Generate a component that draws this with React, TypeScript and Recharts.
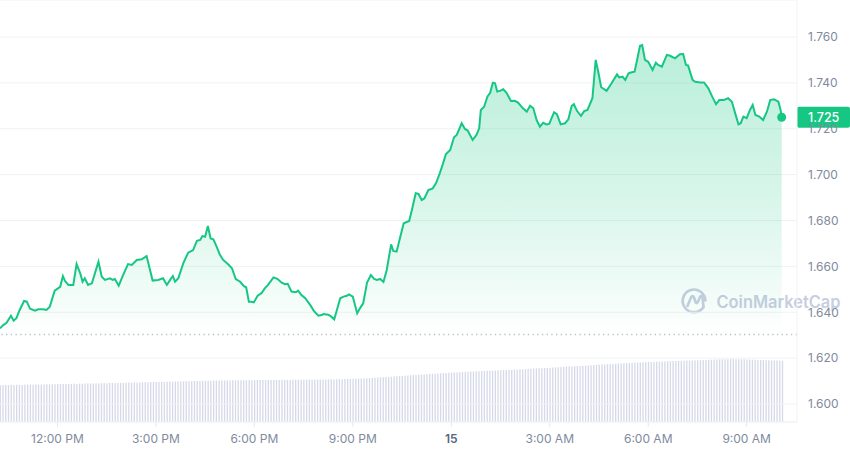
import React from 'react';
import {
  AreaChart,
  Area,
  BarChart,
  Bar,
  XAxis,
  YAxis,
  CartesianGrid,
  ReferenceLine,
  ReferenceDot,
} from 'recharts';

// Minutes since 00:00 on the 14th
const priceTimes = [
  615, 621, 627, 635, 640, 645, 651, 659, 664, 670,
  679, 685, 694, 700, 706, 715, 725, 730, 734, 740,
  749, 755, 762, 766, 770, 776, 783, 795, 801, 807,
  816, 821, 825, 832, 840, 849, 856, 865, 874, 883,
  894, 904, 913, 920, 926, 931, 935, 941, 950, 959,
  968, 975, 981, 985, 990, 995, 1000, 1005, 1011, 1017,
  1023, 1032, 1039, 1046, 1054, 1061, 1065, 1070, 1075, 1079,
  1086, 1093, 1099, 1105, 1115, 1122, 1130, 1136, 1141, 1148,
  1156, 1160, 1166, 1173, 1182, 1189, 1197, 1203, 1206, 1215,
  1219, 1226, 1230, 1237, 1243, 1249, 1253, 1260, 1268, 1273,
  1279, 1286, 1293, 1299, 1304, 1310, 1316, 1322, 1330, 1334,
  1340, 1346, 1353, 1363, 1368, 1375, 1380, 1386, 1391, 1398,
  1406, 1412, 1419, 1425, 1430, 1438, 1445, 1450, 1459, 1465,
  1470, 1479, 1486, 1491, 1494, 1500, 1506, 1511, 1516, 1520,
  1524, 1530, 1535, 1541, 1549, 1556, 1562, 1571, 1578, 1584,
  1590, 1596, 1602, 1608, 1614, 1619, 1628, 1633, 1640, 1648,
  1654, 1660, 1664, 1670, 1677, 1683, 1689, 1698, 1704, 1709,
  1714, 1724, 1733, 1743, 1747, 1753, 1758, 1764, 1770, 1775,
  1779, 1785, 1789, 1794, 1800, 1808, 1814, 1818, 1825, 1834,
  1840, 1849, 1858, 1864, 1869, 1873, 1881, 1886, 1895, 1902,
  1910, 1917, 1924, 1930, 1938, 1946, 1953, 1959, 1965, 1969,
  1974, 1980, 1986, 1991, 1996, 2003, 2010, 2017, 2023, 2030,
  2038, 2042, 2044,
];

const prices = [
  1.6330, 1.6344, 1.6354, 1.6385, 1.6363, 1.6374, 1.6410, 1.6449, 1.6446, 1.6415,
  1.6407, 1.6413, 1.6413, 1.6410, 1.6424, 1.6494, 1.6511, 1.6558, 1.6536, 1.6519,
  1.6519, 1.6610, 1.6567, 1.6533, 1.6548, 1.6519, 1.6526, 1.6620, 1.6555, 1.6541,
  1.6548, 1.6541, 1.6545, 1.6516, 1.6562, 1.6610, 1.6606, 1.6628, 1.6631, 1.6645,
  1.6538, 1.6541, 1.6548, 1.6519, 1.6541, 1.6558, 1.6533, 1.6548, 1.6613, 1.6660,
  1.6671, 1.6711, 1.6715, 1.6732, 1.6729, 1.6776, 1.6722, 1.6718, 1.6686, 1.6650,
  1.6628, 1.6609, 1.6592, 1.6545, 1.6533, 1.6514, 1.6509, 1.6446, 1.6446, 1.6443,
  1.6472, 1.6483, 1.6504, 1.6519, 1.6552, 1.6546, 1.6529, 1.6522, 1.6524, 1.6490,
  1.6487, 1.6494, 1.6475, 1.6461, 1.6432, 1.6405, 1.6385, 1.6388, 1.6392, 1.6389,
  1.6384, 1.6369, 1.6402, 1.6461, 1.6468, 1.6472, 1.6478, 1.6468, 1.6395, 1.6417,
  1.6439, 1.6529, 1.6562, 1.6545, 1.6541, 1.6545, 1.6532, 1.6584, 1.6696, 1.6667,
  1.6664, 1.6722, 1.6788, 1.6798, 1.6846, 1.6919, 1.6916, 1.6889, 1.6897, 1.6933,
  1.6940, 1.6962, 1.7006, 1.7049, 1.7089, 1.7107, 1.7163, 1.7173, 1.7224, 1.7199,
  1.7192, 1.7151, 1.7173, 1.7202, 1.7282, 1.7296, 1.7340, 1.7357, 1.7401, 1.7398,
  1.7362, 1.7366, 1.7372, 1.7357, 1.7321, 1.7322, 1.7314, 1.7289, 1.7274, 1.7300,
  1.7289, 1.7238, 1.7209, 1.7226, 1.7219, 1.7221, 1.7272, 1.7264, 1.7219, 1.7224,
  1.7241, 1.7299, 1.7307, 1.7277, 1.7256, 1.7277, 1.7282, 1.7333, 1.7500, 1.7444,
  1.7381, 1.7365, 1.7398, 1.7437, 1.7424, 1.7427, 1.7413, 1.7442, 1.7446, 1.7449,
  1.7492, 1.7562, 1.7565, 1.7500, 1.7492, 1.7456, 1.7488, 1.7478, 1.7471, 1.7522,
  1.7518, 1.7507, 1.7525, 1.7526, 1.7478, 1.7475, 1.7413, 1.7405, 1.7402, 1.7402,
  1.7376, 1.7340, 1.7307, 1.7325, 1.7325, 1.7333, 1.7318, 1.7267, 1.7219, 1.7224,
  1.7253, 1.7246, 1.7282, 1.7304, 1.7260, 1.7253, 1.7238, 1.7274, 1.7325, 1.7328,
  1.7318, 1.7282, 1.7250,
];

// Volume bars (millions), one every 5 minutes starting at volumeStartMin
const volumeStartMin = 615;
const volumeStepMin = 5;
const volumes = [
  36.8, 37.0, 37.1, 36.9, 37.2, 37.0, 37.3, 37.1, 37.0, 37.2, 37.4, 37.3, 37.2, 37.5, 37.4, 37.6, 37.5, 37.7, 37.6, 37.8, 37.7, 37.9, 38.0, 37.9,
  38.1, 38.0, 38.2, 38.3, 38.1, 38.4, 38.3, 38.5, 38.4, 38.6, 38.5, 38.7, 38.6, 38.8, 38.9, 38.7, 39.0, 38.9, 39.1, 39.0, 39.2, 39.1, 39.3, 39.4,
  39.3, 39.5, 39.6, 39.4, 39.7, 39.8, 39.7, 39.9, 40.0, 39.9, 40.1, 40.2, 40.1, 40.3, 40.4, 40.3, 40.5, 40.6, 40.5, 40.7, 40.8, 40.7, 40.9, 41.0,
  41.0, 41.1, 41.2, 41.1, 41.3, 41.2, 41.4, 41.3, 41.5, 41.4, 41.5, 41.6, 41.5, 41.7, 41.6, 41.7, 41.8, 41.7, 41.8, 41.9, 41.8, 41.9, 42.0, 41.9,
  42.0, 41.9, 42.0, 42.1, 42.0, 42.1, 42.0, 42.2, 42.1, 42.2, 42.1, 42.2, 42.3, 42.2, 42.3, 42.2, 42.3, 42.4, 42.3, 42.4, 42.5, 42.4, 42.5, 42.6,
  42.6, 42.7, 42.6, 42.8, 42.9, 42.8, 43.0, 43.1, 43.0, 43.2, 43.3, 43.4, 43.5, 43.6, 43.8, 43.9, 44.1, 44.2, 44.4, 44.6, 44.7, 44.9, 45.1, 45.3,
  45.5, 45.7, 45.9, 46.1, 46.3, 46.5, 46.7, 46.9, 47.1, 47.3, 47.5, 47.6, 47.8, 48.0, 48.2, 48.3, 48.5, 48.7, 48.8, 49.0, 49.2, 49.3, 49.5, 49.6,
  49.8, 49.9, 50.1, 50.2, 50.4, 50.5, 50.6, 50.8, 50.9, 51.0, 51.2, 51.3, 51.4, 51.5, 51.7, 51.8, 51.9, 52.0, 52.2, 52.3, 52.4, 52.5, 52.7, 52.8,
  52.9, 53.1, 53.2, 53.4, 53.5, 53.7, 53.8, 54.0, 54.1, 54.3, 54.5, 54.6, 54.8, 55.0, 55.1, 55.3, 55.5, 55.6, 55.8, 56.0, 56.1, 56.3, 56.4, 56.6,
  56.8, 57.0, 57.1, 57.3, 57.5, 57.6, 57.8, 58.0, 58.1, 58.3, 58.5, 58.6, 58.8, 58.9, 59.1, 59.2, 59.4, 59.5, 59.6, 59.8, 59.9, 60.0, 60.1, 60.2,
  60.3, 60.4, 60.5, 60.6, 60.7, 60.8, 60.9, 61.0, 61.1, 61.2, 61.3, 61.4, 61.5, 61.6, 61.7, 61.8, 61.9, 62.0, 62.1, 62.2, 62.3, 62.4, 62.5, 62.6,
  62.7, 62.7, 62.8, 62.8, 62.9, 62.8, 62.8, 62.7, 62.7, 62.6, 62.5, 62.4, 62.3, 62.1, 62.0, 61.9, 61.8, 61.7, 61.6, 61.5, 61.4, 61.3, 61.2,
];

const xTicks = [720, 900, 1080, 1260, 1440, 1620, 1800, 1980];
const xTickLabels = ['12:00 PM', '3:00 PM', '6:00 PM', '9:00 PM', '15', '3:00 AM', '6:00 AM', '9:00 AM'];
const yTicks = [1.6, 1.62, 1.64, 1.66, 1.68, 1.7, 1.72, 1.74, 1.76];
const openPrice = 1.6303;
const lastPrice = 1.725;

const xDomain = [615, 2072];
const yDomain = [1.59215, 1.77613];
const volDomain = [0, 422];

const W = 850;
const H = 452;
const AXIS_W = 53;
const AXIS_H = 30;
const GREEN = '#16c784';
const GREY = '#808a9d';

const priceData = priceTimes
  .slice(0, Math.min(priceTimes.length, prices.length))
  .map((t, i) => ({ t, price: prices[i] }));
const volumeData = volumes.map((v, i) => ({ t: volumeStartMin + i * volumeStepMin, vol: v }));
const lastTime = priceTimes[priceTimes.length - 1];

const XTick = (props: any) => {
  const { x, y, payload } = props;
  const idx = xTicks.indexOf(payload.value);
  const label = idx >= 0 ? xTickLabels[idx] : '';
  const strong = label === '15';
  return (
    <text
      x={x}
      y={y}
      dy={12}
      textAnchor="middle"
      fill={strong ? '#58667e' : GREY}
      fontSize={12}
      fontWeight={strong ? 600 : 400}
      fontFamily="Inter, sans-serif"
    >
      {label}
    </text>
  );
};

const PriceBadge = (props: any) => {
  const vb = props.viewBox || {};
  const bx = (vb.x || 0) + (vb.width || 0);
  const by = vb.y || 0;
  return (
    <g>
      <rect x={bx} y={by - 10.5} width={AXIS_W} height={21} rx={2} fill={GREEN} />
      <text
        x={bx + 11}
        y={by + 4.5}
        fill="#ffffff"
        fontSize={12.5}
        fontWeight={500}
        fontFamily="Inter, sans-serif"
      >
        {lastPrice.toFixed(3)}
      </text>
    </g>
  );
};

const Watermark = () => (
  <svg
    width={W}
    height={H}
    style={{ position: 'absolute', left: 0, top: 0 }}
  >
    <g stroke="#c8cde0" fill="none" strokeWidth={2.6} strokeLinecap="round" strokeLinejoin="round">
      <path d="M 703.5 307 A 11.3 11.3 0 1 1 705.3 300.5" />
      <path d="M 687.5 306 L 691 297.5 Q 692.5 294.5 694 297.5 L 695.5 302 Q 696.5 304.5 697.8 302 L 700 297 Q 701.5 294.5 702.5 297.8 L 703.5 307" />
    </g>
    <text
      x={716.5}
      y={307.5}
      fill="#c8cde0"
      fontSize={17}
      fontWeight={600}
      fontFamily="Inter, sans-serif"
      textLength={124}
      lengthAdjust="spacingAndGlyphs"
    >
      CoinMarketCap
    </text>
  </svg>
);

export default function App() {
  return (
    <div style={{ position: 'absolute', left: 0, top: 0, width: W, height: H, background: '#ffffff', fontFamily: 'Inter, sans-serif' }}>
      <Watermark />
      <div style={{ position: 'absolute', left: 0, top: 0 }}>
        <BarChart
          width={W}
          height={H}
          data={volumeData}
          margin={{ top: 0, right: AXIS_W, bottom: AXIS_H, left: 0 }}
        >
          <XAxis dataKey="t" type="number" domain={xDomain} allowDataOverflow hide />
          <YAxis type="number" domain={volDomain} allowDataOverflow hide />
          <Bar dataKey="vol" fill="#d5d9e8" barSize={1.3} isAnimationActive={false} />
        </BarChart>
      </div>
      <div style={{ position: 'absolute', left: 0, top: 0 }}>
        <AreaChart
          width={W}
          height={H}
          data={priceData}
          margin={{ top: 0, right: 0, bottom: 0, left: 0 }}
        >
          <defs>
            <linearGradient id="priceFill" x1="0" y1="0" x2="0" y2="1">
              <stop offset="0%" stopColor={GREEN} stopOpacity={0.3} />
              <stop offset="40%" stopColor={GREEN} stopOpacity={0.17} />
              <stop offset="70%" stopColor={GREEN} stopOpacity={0.04} />
              <stop offset="76%" stopColor={GREEN} stopOpacity={0} />
              <stop offset="100%" stopColor={GREEN} stopOpacity={0} />
            </linearGradient>
          </defs>
          <CartesianGrid vertical={false} stroke="#eff2f5" strokeWidth={1} />
          <XAxis
            dataKey="t"
            type="number"
            domain={xDomain}
            allowDataOverflow
            ticks={xTicks}
            interval={0}
            height={AXIS_H}
            axisLine={{ stroke: '#eff2f5' }}
            tickLine={{ stroke: '#e6e9ef' }}
            tickSize={5}
            tickMargin={4}
            tick={<XTick />}
          />
          <YAxis
            orientation="right"
            type="number"
            domain={yDomain}
            allowDataOverflow
            ticks={yTicks}
            interval={0}
            width={AXIS_W}
            axisLine={{ stroke: '#eff2f5' }}
            tickLine={false}
            tickSize={0}
            tickMargin={11}
            tick={{ fill: GREY, fontSize: 12, fontFamily: 'Inter, sans-serif' }}
            tickFormatter={(v: number) => v.toFixed(3)}
          />
          <ReferenceLine
            y={openPrice}
            stroke="#b8bfcc"
            strokeWidth={1.3}
            strokeDasharray="1.3 3.4"
          />
          <Area
            type="linear"
            dataKey="price"
            stroke={GREEN}
            strokeWidth={2}
            fill="url(#priceFill)"
            fillOpacity={1}
            dot={false}
            activeDot={false}
            isAnimationActive={false}
          />
          <ReferenceDot x={lastTime} y={lastPrice} r={4.5} fill={GREEN} stroke={GREEN} strokeWidth={0} />
          <ReferenceLine y={lastPrice} stroke="none" label={<PriceBadge />} />
        </AreaChart>
      </div>
    </div>
  );
}
